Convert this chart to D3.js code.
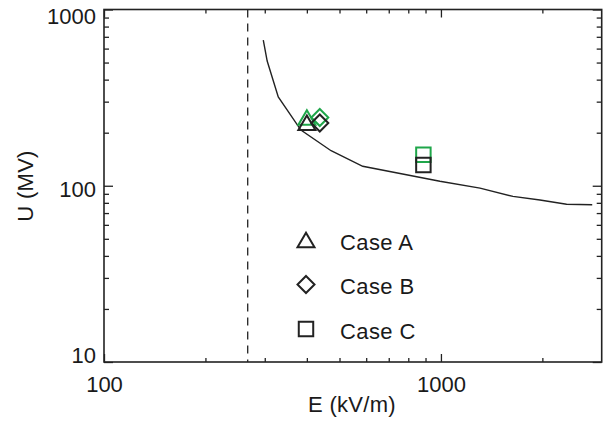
<!DOCTYPE html>
<html>
<head>
<meta charset="utf-8">
<script src="https://cdn.jsdelivr.net/npm/d3@7"></script>
<style>
body { margin: 0; background: #fff; }
text { font-family: "Liberation Sans", Arial, sans-serif; fill: #1a1a1a; }
</style>
</head>
<body>
<svg id="chart" width="613" height="426"></svg>
<script>
// threshold curve
let curveE = [297, 305, 329, 384, 472, 586, 993, 1306, 1636, 1967, 2360, 2812]
let curveU = [671, 510, 319, 207, 158, 129, 106, 97, 87, 83, 78.5, 78]
let thresholdE = 267

// cases, black and green symbols
let caseNames = ["Case A", "Case B", "Case C"]
let caseShapes = ["triangle", "diamond", "square"]
let caseE = [400, 437, 887]
let caseUBlack = [228, 227, 131]
let caseUGreen = [244, 244, 150]

let xMajor = [100, 1000]
let xMinor = [200, 300, 400, 500, 600, 700, 800, 900, 2000]
let yMajor = [10, 100, 1000]
let yMinor = [20, 30, 40, 50, 60, 70, 80, 90, 200, 300, 400, 500, 600, 700, 800, 900]

let plotLeft = 104, plotRight = 601.7, plotTop = 9.5, plotBottom = 362

let svg = d3.select("#chart")

let x = d3.scaleLog()
    .domain([100, 3000])
    .range([plotLeft, plotRight])

let y = d3.scaleLog()
    .domain([10, 1000])
    .range([plotBottom, plotTop])

function shapePath(shape, s) {
    if (shape == "triangle") return `M${-s},${s * 0.85}L0,${-s * 0.85}L${s},${s * 0.85}Z`
    if (shape == "diamond") return `M0,${-s}L${s},0L0,${s}L${-s},0Z`
    return `M${-s * 0.85},${-s * 0.85}H${s * 0.85}V${s * 0.85}H${-s * 0.85}Z`
}

// axes, ticks pointing inward
function addAxis(axis, tx, ty) {
    let g = svg.append("g")
        .attr("transform", `translate(${tx},${ty})`)
        .call(axis)
    g.select(".domain").remove()
    g.selectAll("line").attr("stroke", "#222").attr("stroke-width", 1.3)
    return g
}

let xAxis = addAxis(d3.axisBottom(x).tickValues(xMajor).tickSize(-8).tickSizeOuter(0).tickPadding(14).tickFormat(d3.format("d")), 0, plotBottom)
addAxis(d3.axisBottom(x).tickValues(xMinor).tickSize(-4).tickFormat(""), 0, plotBottom)
addAxis(d3.axisTop(x).tickValues(xMajor).tickSize(-8).tickFormat(""), 0, plotTop)
addAxis(d3.axisTop(x).tickValues(xMinor).tickSize(-4).tickFormat(""), 0, plotTop)

let yAxis = addAxis(d3.axisLeft(y).tickValues(yMajor).tickSize(-9).tickSizeOuter(0).tickPadding(8).tickFormat(d3.format("d")), plotLeft, 0)
addAxis(d3.axisLeft(y).tickValues(yMinor).tickSize(-5).tickFormat(""), plotLeft, 0)
addAxis(d3.axisRight(y).tickValues(yMajor).tickSize(-9).tickFormat(""), plotRight, 0)
addAxis(d3.axisRight(y).tickValues(yMinor).tickSize(-5).tickFormat(""), plotRight, 0)

xAxis.selectAll("text").attr("font-size", 22).attr("fill", "#1a1a1a")
yAxis.selectAll("text")
    .attr("font-size", 22)
    .attr("fill", "#1a1a1a")
    .attr("dy", d => d == 10 ? "0em" : d == 100 ? "0.5em" : "0.62em")

// frame
svg.append("rect")
    .attr("x", plotLeft).attr("y", plotTop)
    .attr("width", plotRight - plotLeft).attr("height", plotBottom - plotTop)
    .attr("fill", "none")
    .attr("stroke", "#222")
    .attr("stroke-width", 1.6)

// dashed threshold
svg.append("line")
    .attr("x1", x(thresholdE)).attr("x2", x(thresholdE))
    .attr("y1", plotTop).attr("y2", plotBottom)
    .attr("stroke", "#222")
    .attr("stroke-width", 1.3)
    .attr("stroke-dasharray", "8,6")

// curve
let curveData = curveE.map((e, i) => [e, curveU[i]])
svg.append("path")
    .datum(curveData)
    .attr("fill", "none")
    .attr("stroke", "#222")
    .attr("stroke-width", 1.4)
    .attr("d", d3.line().x(d => x(d[0])).y(d => y(d[1])))

// case symbols, green under black
let greenData = caseE.map((e, i) => ({ e: e, u: caseUGreen[i], shape: caseShapes[i] }))
let blackData = caseE.map((e, i) => ({ e: e, u: caseUBlack[i], shape: caseShapes[i] }))

svg.selectAll(".green")
    .data(greenData)
    .enter()
    .append("path")
    .attr("class", "green")
    .attr("transform", d => `translate(${x(d.e)},${y(d.u)})`)
    .attr("d", d => shapePath(d.shape, 8.5))
    .attr("fill", "none")
    .attr("stroke", "#1fa64a")
    .attr("stroke-width", 2)

svg.selectAll(".black")
    .data(blackData)
    .enter()
    .append("path")
    .attr("class", "black")
    .attr("transform", d => `translate(${x(d.e)},${y(d.u)})`)
    .attr("d", d => shapePath(d.shape, 8.5))
    .attr("fill", "none")
    .attr("stroke", "#222")
    .attr("stroke-width", 2)

// legend
let legend = svg.selectAll(".legend")
    .data(caseNames)
    .enter()
    .append("g")
    .attr("class", "legend")
    .attr("transform", (d, i) => `translate(306,${240 + i * 44.5})`)

legend.append("path")
    .attr("d", (d, i) => shapePath(caseShapes[i], 8.5))
    .attr("fill", "none")
    .attr("stroke", "#222")
    .attr("stroke-width", 2)

legend.append("text")
    .attr("x", 34)
    .attr("y", 5)
    .attr("dy", "0.22em")
    .attr("font-size", 22)
    .attr("letter-spacing", 0.4)
    .text(d => d)

// titles
svg.append("text")
    .attr("x", 352)
    .attr("y", 412)
    .attr("text-anchor", "middle")
    .attr("font-size", 22)
    .attr("letter-spacing", 0.3)
    .text("E (kV/m)")

svg.append("text")
    .attr("transform", "translate(33,186) rotate(-90)")
    .attr("text-anchor", "middle")
    .attr("font-size", 22)
    .attr("letter-spacing", 0.3)
    .text("U (MV)")
</script>
</body>
</html>
